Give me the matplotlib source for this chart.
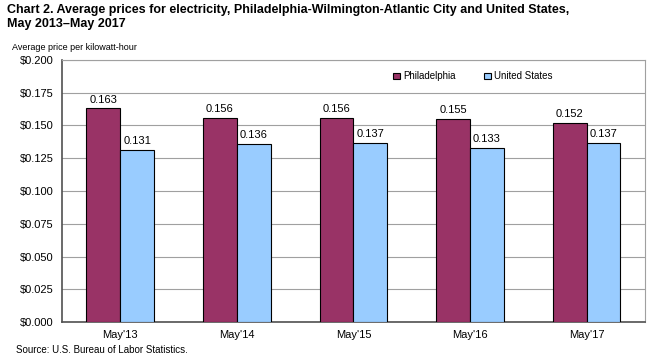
import numpy as np
import matplotlib
matplotlib.use('Agg')
import matplotlib.pyplot as plt

plt.rcParams['font.family'] = ['Liberation Sans', 'DejaVu Sans']

# data
periods = ["May'13", "May'14", "May'15", "May'16", "May'17"]
philadelphia = [0.163, 0.156, 0.156, 0.155, 0.152]
united_states = [0.131, 0.136, 0.137, 0.133, 0.137]

phila_color = '#993366'
us_color = '#99ccff'

fig = plt.figure(figsize=(6.5, 3.59), dpi=100)
ax = fig.add_axes([0.0954, 0.103, 0.8966, 0.730])

x = np.arange(len(periods))
w = 0.29
b1 = ax.bar(x - w / 2, philadelphia, w, color=phila_color, edgecolor='black',
            linewidth=0.8, label='Philadelphia', zorder=3)
b2 = ax.bar(x + w / 2, united_states, w, color=us_color, edgecolor='black',
            linewidth=0.8, label='United States', zorder=3)

for bars, vals in ((b1, philadelphia), (b2, united_states)):
    for r, v in zip(bars, vals):
        ax.text(r.get_x() + r.get_width() / 2, v + 0.003, '%.3f' % v,
                ha='center', va='bottom', fontsize=8)

ax.set_xlim(-0.5, len(periods) - 0.5)
ax.set_ylim(0, 0.2)
ticks = np.arange(0, 0.2001, 0.025)
ax.set_yticks(ticks)
ax.set_yticklabels(['$%.3f' % t for t in ticks], fontsize=8)
ax.set_xticks(x)
ax.set_xticklabels(periods, fontsize=8)
ax.tick_params(axis='both', length=0, pad=6)
ax.grid(axis='y', color='#a0a0a0', linewidth=0.8, zorder=0)

for s in ['top', 'right']:
    ax.spines[s].set_color('#a0a0a0')
for s in ['left', 'bottom']:
    ax.spines[s].set_color('#505050')
    ax.spines[s].set_linewidth(1.2)

ax.legend(loc='upper center', bbox_to_anchor=(0.705, 0.99), ncol=2, frameon=False,
          fontsize=7, handlelength=0.7, handleheight=0.7, handletextpad=0.3,
          columnspacing=3.0)

fig.text(0.011, 0.988, 'Chart 2. Average prices for electricity, Philadelphia-Wilmington-Atlantic City and United States,\nMay 2013\u2013May 2017',
         fontsize=9, fontweight='bold', va='top', ha='left', linespacing=1.2)
fig.text(0.018, 0.869, 'Average price per kilowatt-hour', fontsize=6.5, va='center')
fig.text(0.025, 0.025, 'Source: U.S. Bureau of Labor Statistics.', fontsize=7, va='center')

fig.savefig('out.png', dpi=100)
